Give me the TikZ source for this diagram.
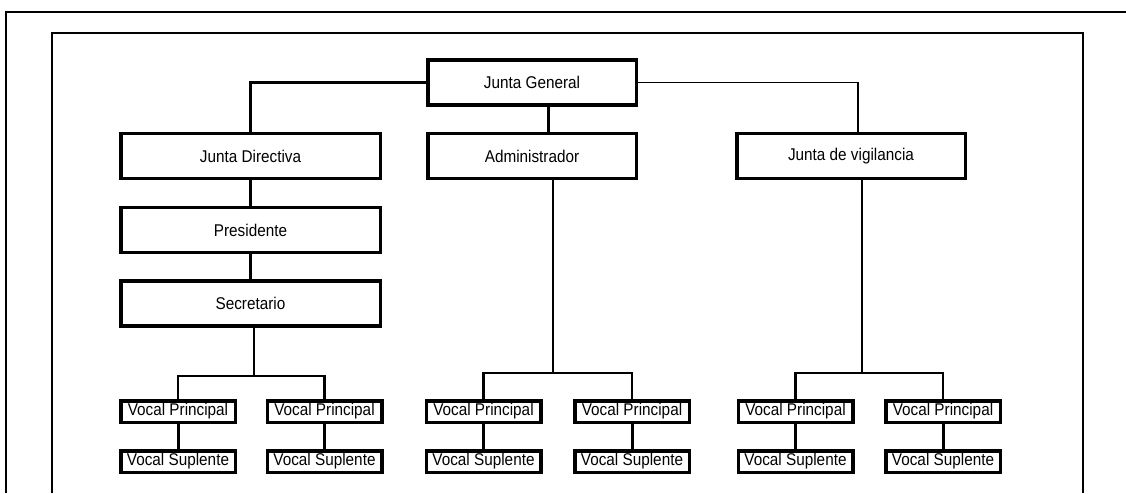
\documentclass[tikz,border=0pt]{standalone}
\usepackage{fontspec}
\setmainfont{Liberation Sans}[FakeStretch=0.9]
\usetikzlibrary{calc}

\begin{document}
\begin{tikzpicture}[%
    x=1pt, y=-1pt,
    every node/.style = {font=\fontsize{17}{20}\selectfont, inner sep=0pt},
    box/.style = {draw, line width=3.5pt, minimum width=#1, minimum height=45pt},
    vocal/.style = {draw, line width=3.5pt, minimum width=114.5pt, minimum height=21.5pt},
    every edge/.style = {draw, line width=3pt},
    thin link/.style = {draw, line width=1.8pt},
    bar/.style = {draw, line width=2.6pt}
]
\useasboundingbox (0,0) rectangle (1126,493);
% frames
\draw[line width=2pt] (1126,12) -- (6,12) -- (6,493);
\draw[line width=1.7pt] (52,493) -- (52,33) -- (1083,33) -- (1083,493);

\node (jg) [box=208.5pt] at (532,82.5) {Junta General};
\node (jd) [box=259.5pt] at (250.5,156) {Junta Directiva};
\node (adm) [box=208.5pt] at (532,156) {Administrador};
\node (jv) [box=228.5pt] at (851,156) {Junta de vigilancia};
\node (pres) [box=259.5pt] at (250.5,230) {Presidente};
\node (sec) [box=259.5pt] at (250.5,303.5) {Secretario};

\foreach \x [count=\i] in {178,324.5,483.5,632,795.5,943} {
    \node (vp\i) [vocal] at (\x,411.5) {Vocal Principal};
    \node (vs\i) [vocal] at (\x,461.5) {Vocal Suplente};
    \path (vp\i) edge (vs\i);
}

\coordinate (dir) at (254,376);
\coordinate (adm-j) at (553,373);
\coordinate (vig-j) at (862,373);

\draw[line width=3pt] (jg) -| (jd);
\draw[thin link] (jg) -| ([xshift=7pt]jv.north);
\draw[line width=3pt] ([xshift=16pt]jg.south) -- ([xshift=16pt]adm.north);
\path
    (jd) edge (pres)
    (pres) edge (sec);

\draw[thin link] (sec.south -| dir) -- (dir);
\draw[bar] (vp1) |- (dir) -| (vp2);
\draw[thin link] (adm.south -| adm-j) -- (adm-j);
\draw[bar] (vp3) |- (adm-j) -| (vp4);
\draw[thin link] (jv.south -| vig-j) -- (vig-j);
\draw[bar] (vp5) |- (vig-j) -| (vp6);
\end{tikzpicture}
\end{document}
